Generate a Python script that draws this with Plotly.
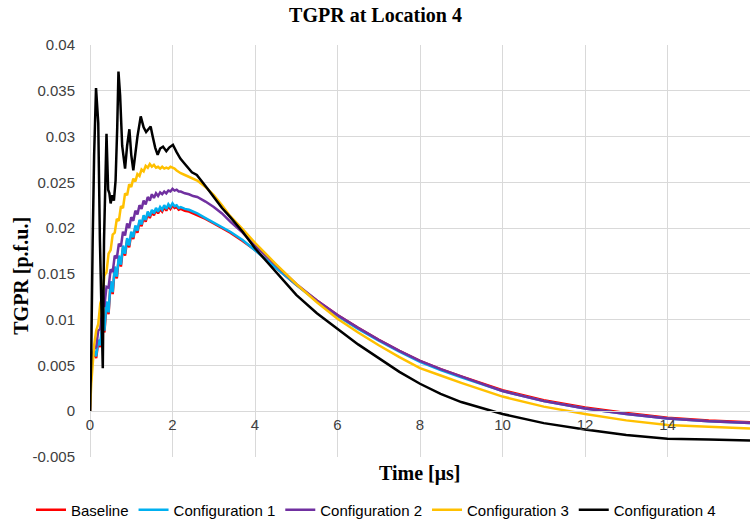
import plotly.graph_objects as go

# ---------------- data ----------------
T_COMMON = [0, 0.03, 0.1, 0.15, 0.2, 0.25, 0.3, 0.35, 0.4, 0.45, 0.5, 0.55, 0.6, 0.65,
            0.7, 0.75, 0.8, 0.85, 0.9, 0.95, 1.0, 1.05, 1.1, 1.15, 1.2, 1.25, 1.3, 1.35,
            1.4, 1.45, 1.5, 1.55, 1.6, 1.65, 1.7, 1.75, 1.8, 1.85, 1.9, 1.95, 2.0, 2.05,
            2.1, 2.15, 2.2, 2.3, 2.4, 2.5, 2.6, 2.8, 3.0, 3.2, 3.4, 3.7, 4.0, 4.5, 5.0,
            5.5, 6.0, 6.5, 7.0, 7.5, 8.0, 8.5, 9.0, 10.0, 11.0, 12.0, 13.0, 14.0, 15.0, 16.0]

BASELINE = [0.0, 0.0052, 0.0064, 0.0058, 0.0076, 0.0070, 0.0096, 0.0086, 0.0118, 0.0106,
            0.0140, 0.0128, 0.0156, 0.0145, 0.0168, 0.0158, 0.0179, 0.0170, 0.0187, 0.0179,
            0.0194, 0.0188, 0.0201, 0.0195, 0.0207, 0.0202, 0.0212, 0.0207, 0.0216, 0.0211,
            0.0218, 0.0214, 0.0220, 0.0216, 0.0221, 0.0218, 0.0223, 0.0219, 0.0224, 0.0221,
            0.0225, 0.0222, 0.0223, 0.0220, 0.0221, 0.0219, 0.0218, 0.0216, 0.0214, 0.0210,
            0.0205, 0.0200, 0.0195, 0.0186, 0.0176, 0.0157, 0.0138, 0.0121, 0.0105, 0.0091,
            0.0078, 0.0066, 0.0055, 0.0046, 0.0038, 0.0023, 0.0012, 0.0004, -0.0002, -0.0007,
            -0.0010, -0.0012]

CONFIG_1 = [0.0, 0.0055, 0.0066, 0.0060, 0.0078, 0.0072, 0.0098, 0.0088, 0.0120, 0.0108,
            0.0142, 0.0130, 0.0158, 0.0147, 0.0170, 0.0160, 0.0181, 0.0172, 0.0189, 0.0181,
            0.0196, 0.0190, 0.0203, 0.0197, 0.0209, 0.0204, 0.0214, 0.0209, 0.0218, 0.0213,
            0.0220, 0.0216, 0.0222, 0.0218, 0.0223, 0.0220, 0.0225, 0.0221, 0.0226, 0.0223,
            0.0227, 0.0224, 0.0225, 0.0222, 0.0223, 0.0221, 0.0220, 0.0218, 0.0216, 0.0211,
            0.0206, 0.0201, 0.0196, 0.0187, 0.0176, 0.0157, 0.0138, 0.0120, 0.0104, 0.0090,
            0.0077, 0.0065, 0.0054, 0.0045, 0.0037, 0.0022, 0.0011, 0.0003, -0.0003, -0.0008,
            -0.0011, -0.0013]

CONFIG_2 = [0.0, 0.0052, 0.0068, 0.0070, 0.0088, 0.0090, 0.0114, 0.0115, 0.0136, 0.0135,
            0.0155, 0.0152, 0.0170, 0.0167, 0.0183, 0.0180, 0.0196, 0.0192, 0.0205, 0.0200,
            0.0212, 0.0208, 0.0219, 0.0215, 0.0225, 0.0221, 0.0230, 0.0226, 0.0234, 0.0230,
            0.0237, 0.0233, 0.0238, 0.0235, 0.0239, 0.0237, 0.0240, 0.0238, 0.0241, 0.0240,
            0.0243, 0.0241, 0.0242, 0.0240, 0.0240, 0.0238, 0.0237, 0.0235, 0.0234, 0.0229,
            0.0223, 0.0216, 0.0207, 0.0195, 0.0181, 0.0160, 0.0139, 0.0121, 0.0105, 0.0091,
            0.0078, 0.0066, 0.0055, 0.0046, 0.0038, 0.0022, 0.0011, 0.0003, -0.0003, -0.0008,
            -0.0011, -0.0013]

CONFIG_3 = [0.0, 0.0030, 0.0072, 0.0088, 0.0095, 0.0118, 0.0125, 0.0148, 0.0152, 0.0172,
            0.0176, 0.0193, 0.0195, 0.0210, 0.0208, 0.0224, 0.0222, 0.0238, 0.0236, 0.0248,
            0.0245, 0.0254, 0.0251, 0.0259, 0.0257, 0.0264, 0.0262, 0.0268, 0.0266, 0.0270,
            0.0267, 0.0269, 0.0266, 0.0267, 0.0265, 0.0267, 0.0265, 0.0266, 0.0265, 0.0267,
            0.0266, 0.0265, 0.0263, 0.0261, 0.0260, 0.0258, 0.0256, 0.0254, 0.0252, 0.0245,
            0.0236, 0.0225, 0.0213, 0.0199, 0.0184, 0.0161, 0.0139, 0.0119, 0.0101, 0.0086,
            0.0072, 0.0059, 0.0047, 0.0039, 0.0031, 0.0016, 0.0005, -0.0003, -0.0010, -0.0015,
            -0.0017, -0.0019]

T_CONFIG_4 = [0, 0.03, 0.065, 0.1, 0.146, 0.2, 0.24, 0.28, 0.31, 0.34, 0.40, 0.44, 0.47,
              0.50, 0.54, 0.58, 0.62, 0.66, 0.69, 0.73, 0.78, 0.85, 0.90, 0.955, 1.0, 1.05,
              1.1, 1.15, 1.23, 1.3, 1.36, 1.42, 1.47, 1.52, 1.58, 1.64, 1.7, 1.77, 1.85,
              1.92, 2.01, 2.1, 2.19, 2.3, 2.4, 2.47, 2.59, 2.7, 2.85, 3.0, 3.2, 3.4, 3.7,
              4.0, 4.5, 5.0, 5.5, 6.0, 6.5, 7.0, 7.5, 8.0, 8.5, 9.0, 10, 11, 12, 13, 14, 15, 16]

CONFIG_4 = [0.0, 0.0060, 0.0187, 0.0280, 0.0353, 0.0315, 0.0187, 0.0100, 0.0047, 0.0187,
            0.0303, 0.0242, 0.0238, 0.0227, 0.0236, 0.0230, 0.0252, 0.0310, 0.0371, 0.0345,
            0.0290, 0.0265, 0.0290, 0.0308, 0.0280, 0.0263, 0.0285, 0.0300, 0.0322, 0.0310,
            0.0305, 0.0309, 0.0311, 0.0300, 0.0288, 0.0280, 0.0287, 0.0289, 0.0284, 0.0288,
            0.0291, 0.0283, 0.0276, 0.0270, 0.0264, 0.0261, 0.0258, 0.0252, 0.0243, 0.0234,
            0.0222, 0.0212, 0.0196, 0.0178, 0.0152, 0.0127, 0.0107, 0.0090, 0.0073, 0.0058,
            0.0043, 0.0030, 0.0019, 0.0010, -0.0003, -0.0013, -0.0020, -0.0026, -0.0030,
            -0.0031, -0.0032]

SERIES_NAMES = ["Baseline", "Configuration 1", "Configuration 2", "Configuration 3", "Configuration 4"]
SERIES_COLORS = ["#FF0000", "#00B0F0", "#7030A0", "#FFC000", "#000000"]

X_TICK_VALUES = [0, 2, 4, 6, 8, 10, 12, 14, 16]
X_TICK_LABELS = ["0", "2", "4", "6", "8", "10", "12", "14", "16"]
Y_TICK_VALUES = [-0.005, 0, 0.005, 0.01, 0.015, 0.02, 0.025, 0.03, 0.035, 0.04]
Y_TICK_LABELS = ["-0.005", "0", "0.005", "0.01", "0.015", "0.02", "0.025", "0.03", "0.035", "0.04"]

TITLE = "TGPR at Location 4"
X_TITLE = "Time [μs]"
Y_TITLE = "TGPR [p.f.u.]"

# ---------------- figure ----------------
xs = [T_COMMON, T_COMMON, T_COMMON, T_COMMON, T_CONFIG_4]
ys = [BASELINE, CONFIG_1, CONFIG_2, CONFIG_3, CONFIG_4]

fig = go.Figure()
for name, color, x, y in zip(SERIES_NAMES, SERIES_COLORS, xs, ys):
    fig.add_trace(go.Scatter(x=x, y=y, name=name, mode="lines",
                             line=dict(color=color, width=2.5)))

GRID = "#D9D9D9"
TICK_FONT = dict(family="Liberation Sans, Arial, sans-serif", size=15, color="#404040")
SERIF_BOLD = dict(family="Liberation Serif, Times New Roman, serif", size=20, color="#000000")

ymin, ymax = Y_TICK_VALUES[0], Y_TICK_VALUES[-1]
zero_pos = (0 - ymin) / (ymax - ymin)

fig.update_layout(
    width=751, height=527,
    template="none",
    paper_bgcolor="white", plot_bgcolor="white",
    margin=dict(l=90, r=1, t=45, b=70),
    title=dict(text="<b>%s</b>" % TITLE, x=0.5, xref="container", xanchor="center",
               y=1 - 15 / 527, yref="container", yanchor="middle", font=SERIF_BOLD),
    showlegend=True,
    legend=dict(orientation="h", xref="paper", yref="paper",
                x=(31 - 90) / 660, xanchor="left", y=(457 - 510) / 412, yanchor="middle",
                font=dict(family="Liberation Sans, Arial, sans-serif", size=15, color="#000000"),
                itemwidth=30, bgcolor="rgba(0,0,0,0)"),
    xaxis=dict(range=[0, 16], tickvals=X_TICK_VALUES, ticktext=X_TICK_LABELS,
               showgrid=True, gridcolor=GRID, gridwidth=1,
               zeroline=True, zerolinecolor=GRID, zerolinewidth=1,
               showline=True, linecolor=GRID, linewidth=1,
               anchor="free", position=zero_pos, ticks="", automargin=False,
               tickfont=TICK_FONT),
    yaxis=dict(range=[ymin, ymax], tickvals=Y_TICK_VALUES, ticktext=Y_TICK_LABELS,
               showgrid=True, gridcolor=GRID, gridwidth=1,
               zeroline=True, zerolinecolor=GRID, zerolinewidth=1,
               showline=False, ticks="", automargin=False, ticklabelstandoff=14,
               tickfont=TICK_FONT),
    annotations=[
        dict(text="<b>%s</b>" % X_TITLE, xref="paper", yref="paper", x=0.5, y=-0.039,
             xanchor="center", yanchor="middle", showarrow=False, font=SERIF_BOLD),
        dict(text="<b>%s</b>" % Y_TITLE, xref="paper", yref="paper", x=-0.103, y=0.44,
             xanchor="center", yanchor="middle", textangle=-90, showarrow=False,
             font=SERIF_BOLD),
    ],
)

fig.write_html("out.html", config={"displayModeBar": False},
               post_script="document.body.style.margin='0';")
